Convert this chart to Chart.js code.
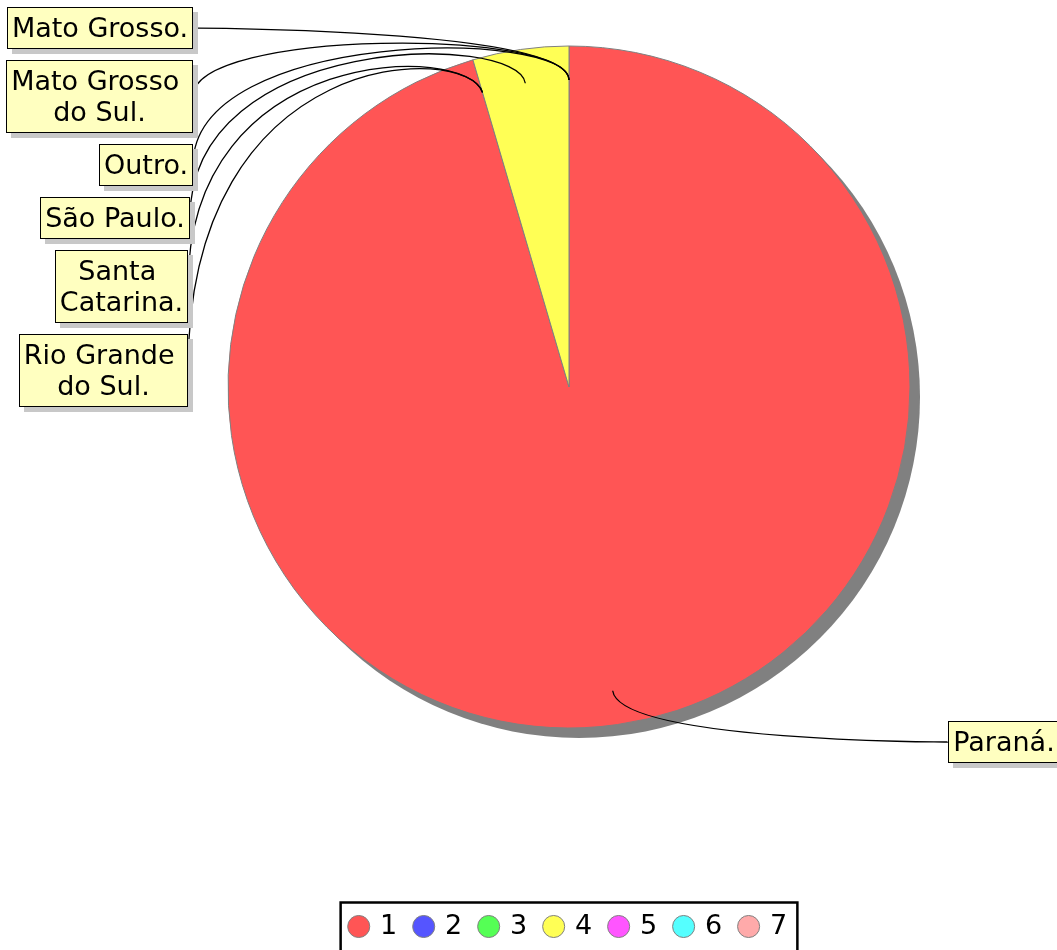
<!DOCTYPE html>
<html><head><meta charset="utf-8">
<script src="https://cdn.jsdelivr.net/npm/chart.js@4/dist/chart.umd.min.js"></script>
<style>html,body{margin:0;padding:0;background:#fff;} #wrap{width:1057px;height:950px;position:relative;}</style>
</head><body><div id="wrap"><canvas id="c" width="1057" height="950"></canvas></div>
<script>
// ---- data ----
const categories = ['Paraná.', 'Rio Grande do Sul.', 'Santa Catarina.', 'São Paulo.', 'Outro.', 'Mato Grosso do Sul.', 'Mato Grosso.'];
const values = [21, 0, 0, 1, 0, 0, 0];
const legendKeys = ['1', '2', '3', '4', '5', '6', '7'];
const sliceColors = ['#ff5555', '#5555ff', '#55ff55', '#ffff55', '#ff55ff', '#55ffff', '#ffaaaa'];

// ---- layout / style constants ----
const W = 1057, H = 950;
const PIE_CX = 569, PIE_CY = 387, PIE_R = 341;
const FONT_FAMILY = 'DejaVu Sans';
const LABEL_FONT_SIZE = 27;
const LINE_H = 31, BOX_PAD_X = 5, BOX_PAD_Y = 5.5, BOX_GAP = 10.5, WRAP_W = 185;
const LEFT_BOX_NUDGE = [0, 0, 0, -3, -5, -5];
const LEGEND_FONT = 27, LEGEND_BOX = 15.6, LEGEND_PAD = 18.7;

function wrapText(ctx, text, maxW) {
  const words = text.split(' ');
  const out = [];
  let line = '';
  for (const w of words) {
    const test = line ? line + ' ' + w : w;
    if (line && ctx.measureText(test).width > maxW) { out.push(line + ' '); line = w; }
    else line = test;
  }
  out.push(line);
  return out;
}

// place the pie's plotting square explicitly (legend keeps its own place at the bottom)
const pieArea = {
  id: 'pieArea',
  afterLayout(chart) {
    const ca = chart.chartArea;
    ca.left = PIE_CX - PIE_R; ca.right = PIE_CX + PIE_R;
    ca.top = PIE_CY - PIE_R; ca.bottom = PIE_CY + PIE_R;
    ca.width = 2 * PIE_R; ca.height = 2 * PIE_R;
  }
};

const pieShadow = {
  id: 'pieShadow',
  beforeDatasetsDraw(chart) {
    const a = chart.getDatasetMeta(0).data[0];
    const ctx = chart.ctx;
    ctx.save();
    ctx.fillStyle = '#808080';
    ctx.beginPath();
    ctx.arc(a.x + 10, a.y + 10, a.outerRadius, 0, Math.PI * 2);
    ctx.fill();
    ctx.restore();
  }
};

const callouts = {
  id: 'callouts',
  afterDatasetsDraw(chart) {
    const ctx = chart.ctx;
    const arcs = chart.getDatasetMeta(0).data;
    const cx = arcs[0].x, cy = arcs[0].y, R = arcs[0].outerRadius;
    ctx.save();
    ctx.font = LABEL_FONT_SIZE + 'px "' + FONT_FAMILY + '"';
    const items = arcs.map((a, i) => {
      const mid = (a.startAngle + a.endAngle) / 2;
      const ux = Math.cos(mid), uy = Math.sin(mid);
      const A = {x: cx + ux * R * 0.9, y: cy + uy * R * 0.9};
      const C = {x: cx + ux * R * 1.052, y: cy + uy * R * 1.052};
      const lines = wrapText(ctx, categories[i], WRAP_W);
      const w = Math.max(...lines.map(l => ctx.measureText(l).width)) + 2 * BOX_PAD_X;
      const h = lines.length * LINE_H + 2 * BOX_PAD_Y;
      return {i, A, C, lines, w, h, left: C.x <= cx + 0.5};
    });
    const place = (list, isLeft) => {
      list.sort((p, q) => (p.C.y - q.C.y) || (q.i - p.i));
      let prevBottom = -1e9;
      list.forEach((it, k) => {
        const top = Math.max(it.C.y - it.h / 2, prevBottom + BOX_GAP);
        it.top = Math.round(top);
        prevBottom = it.top + it.h;
        if (isLeft) {
          const right = Math.round(cx - R - 35 + (LEFT_BOX_NUDGE[k] || 0));
          it.x = right - Math.round(it.w);
          it.Lx = right;
        } else {
          it.x = Math.round(cx + R + 38);
          it.Lx = it.x;
        }
        it.Ly = it.top + it.h / 2;
      });
    };
    place(items.filter(t => t.left), true);
    place(items.filter(t => !t.left), false);
    // leader lines
    ctx.strokeStyle = '#000';
    ctx.lineWidth = 1.3;
    items.forEach(it => {
      ctx.beginPath();
      ctx.moveTo(it.Lx, it.Ly);
      ctx.bezierCurveTo(it.Lx, it.C.y, it.C.x, it.C.y, it.A.x, it.A.y);
      ctx.stroke();
    });
    // boxes
    items.forEach(it => {
      const bw = Math.round(it.w), bh = Math.round(it.h);
      ctx.fillStyle = '#c8c8c8';
      ctx.fillRect(it.x + 5, it.top + 5, bw, bh);
      ctx.fillStyle = '#ffffc0';
      ctx.fillRect(it.x, it.top, bw, bh);
      ctx.strokeStyle = '#000';
      ctx.lineWidth = 1;
      ctx.strokeRect(it.x + 0.5, it.top + 0.5, bw - 1, bh - 1);
      ctx.fillStyle = '#000';
      ctx.textAlign = 'center';
      ctx.textBaseline = 'alphabetic';
      it.lines.forEach((ln, j) => {
        ctx.fillText(ln, it.x + bw / 2, it.top + BOX_PAD_Y + j * LINE_H + 24.5);
      });
    });
    ctx.restore();
  }
};

const legendFrame = {
  id: 'legendFrame',
  afterDraw(chart) {
    const lg = chart.legend;
    if (!lg || !lg.legendHitBoxes || !lg.legendHitBoxes.length) return;
    const hb = lg.legendHitBoxes;
    const first = hb[0], last = hb[hb.length - 1];
    const left = first.left - 10.3, right = last.left + last.width + 10.3;
    const top = first.top - 10.5;
    const ctx = chart.ctx;
    ctx.save();
    ctx.strokeStyle = '#000';
    ctx.lineWidth = 2.5;
    ctx.strokeRect(left, top, right - left, H + 20 - top);
    ctx.restore();
  }
};

Chart.defaults.font.family = FONT_FAMILY;

new Chart(document.getElementById('c'), {
  type: 'pie',
  data: {
    labels: categories,
    datasets: [{
      data: values,
      backgroundColor: sliceColors,
      borderColor: '#808080',
      borderWidth: 1,
      hoverOffset: 0,
      radius: PIE_R
    }]
  },
  options: {
    responsive: false,
    animation: false,
    layout: {
      padding: {left: PIE_CX - PIE_R, right: W - PIE_CX - PIE_R, top: 0, bottom: 0}
    },
    plugins: {
      tooltip: {enabled: false},
      title: {display: false},
      legend: {
        display: true,
        position: 'bottom',
        onClick: null,
        labels: {
          usePointStyle: true,
          pointStyle: 'circle',
          boxWidth: LEGEND_BOX,
          boxHeight: LEGEND_BOX,
          padding: LEGEND_PAD,
          color: '#000',
          font: {family: FONT_FAMILY, size: LEGEND_FONT},
          generateLabels() {
            return values.map((v, i) => ({
              text: legendKeys[i],
              fillStyle: sliceColors[i],
              strokeStyle: '#808080',
              lineWidth: 1,
              pointStyle: 'circle',
              hidden: false,
              index: i,
              fontColor: '#000'
            }));
          }
        }
      }
    }
  },
  plugins: [pieArea, pieShadow, callouts, legendFrame]
});
</script>
</body></html>
